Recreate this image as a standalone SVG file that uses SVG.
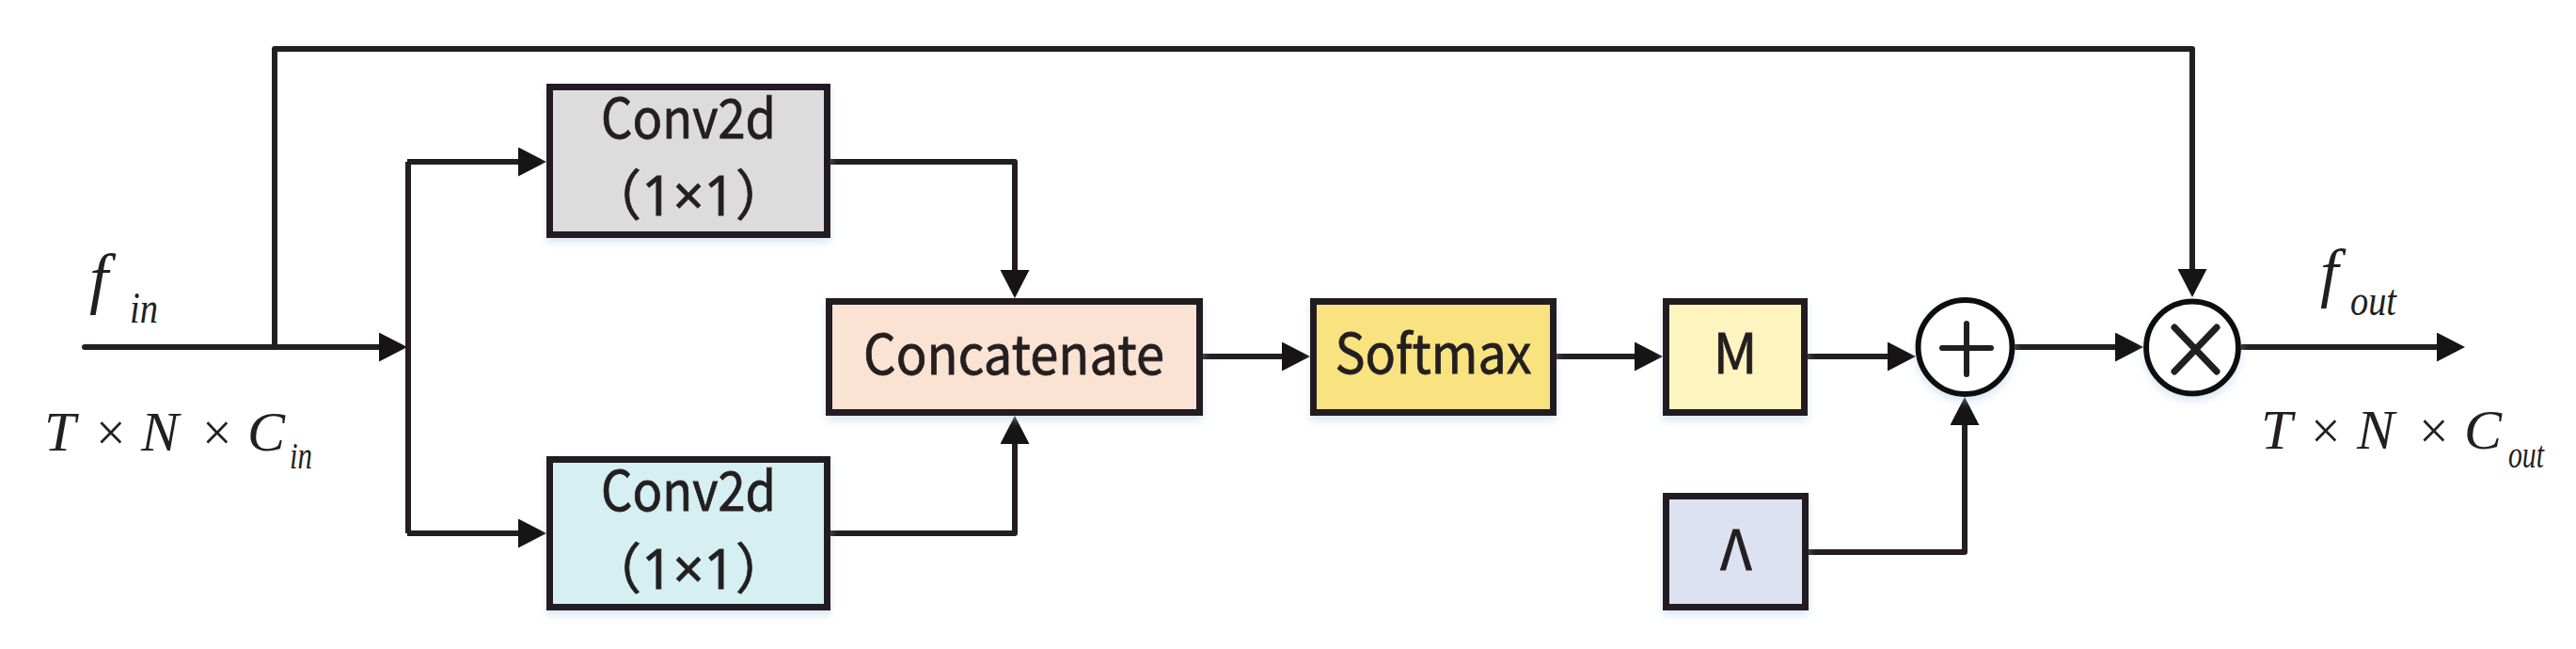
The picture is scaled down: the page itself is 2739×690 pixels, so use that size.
<svg xmlns="http://www.w3.org/2000/svg" width="2739" height="690" viewBox="0 0 2739 690">
  <style>
    .box { stroke: #231f20; stroke-width: 7; }
    .lbl { font-family: "Noto Sans CJK SC", "Noto Sans", sans-serif; font-size: 58px; fill: #231f20; stroke: #231f20; stroke-width: 0.8px; text-anchor: middle; }
    .lat { font-family: "Noto Sans", sans-serif; }
    .conn { fill: none; stroke: #231f20; stroke-width: 6; stroke-linejoin: round; }
    .math { font-family: "Liberation Serif", "Times New Roman", serif; fill: #231f20; }
    .it { font-style: italic; }
    .sym { fill: none; stroke: #231f20; stroke-linecap: round; }
  </style>
  <defs>
    <marker id="arr" markerUnits="userSpaceOnUse" markerWidth="30" markerHeight="31" refX="15" refY="15.5" orient="auto">
      <path d="M0,0 L30,15.5 L0,31 Z" fill="#161414"/>
    </marker>
    <filter id="glow" x="-20%" y="-20%" width="140%" height="150%">
      <feDropShadow dx="0" dy="5" stdDeviation="4" flood-color="#a9cbe9" flood-opacity="0.45"/>
    </filter>
  </defs>
  <rect width="2739" height="690" fill="#ffffff"/>

  <g id="connectors">
    <path class="conn" d="M90,369 H418" marker-end="url(#arr)" stroke-linecap="round"/>
    <path class="conn" d="M434,172 V567"/>
    <path class="conn" d="M433,172 H566" marker-end="url(#arr)"/>
    <path class="conn" d="M433,567 H566" marker-end="url(#arr)"/>
    <path class="conn" d="M883,172 H1079 V302" marker-end="url(#arr)"/>
    <path class="conn" d="M883,567 H1079 V457" marker-end="url(#arr)"/>
    <path class="conn" d="M1279,379 H1378" marker-end="url(#arr)"/>
    <path class="conn" d="M1655,379 H1753" marker-end="url(#arr)"/>
    <path class="conn" d="M1922,379 H2022" marker-end="url(#arr)"/>
    <path class="conn" d="M2142,369 H2264" marker-end="url(#arr)"/>
    <path class="conn" d="M1923,587 H2089 V437" marker-end="url(#arr)"/>
    <path class="conn" d="M292,369 V52 H2331 V301" marker-end="url(#arr)"/>
    <path class="conn" d="M2383,369 H2606" marker-end="url(#arr)"/>
  </g>

  <g id="conv-top">
    <rect class="box" x="584.5" y="92.5" width="295" height="157" fill="#dcdcdc" filter="url(#glow)"/>
    <text class="lbl" x="732" y="147" textLength="186" lengthAdjust="spacingAndGlyphs">Conv2d</text>
    <text class="lbl" x="732" y="229">（<tspan class="lat">1×1</tspan>）</text>
  </g>

  <g id="conv-bottom">
    <rect class="box" x="584.5" y="488.5" width="295" height="157" fill="#d5eff2" filter="url(#glow)"/>
    <text class="lbl" x="732" y="543" textLength="186" lengthAdjust="spacingAndGlyphs">Conv2d</text>
    <text class="lbl" x="732" y="626">（<tspan class="lat">1×1</tspan>）</text>
  </g>

  <g id="concatenate">
    <rect class="box" x="881.5" y="320.5" width="394" height="118" fill="#fbe3d4" filter="url(#glow)"/>
    <text class="lbl" x="1078" y="398" textLength="320" lengthAdjust="spacingAndGlyphs">Concatenate</text>
  </g>

  <g id="softmax">
    <rect class="box" x="1396.5" y="320.5" width="255" height="118" fill="#f9e381" filter="url(#glow)"/>
    <text class="lbl" x="1524" y="397" textLength="209" lengthAdjust="spacingAndGlyphs">Softmax</text>
  </g>

  <g id="m">
    <rect class="box" x="1771.5" y="320.5" width="147" height="118" fill="#fef4c0" filter="url(#glow)"/>
    <text class="lbl" x="1845" y="397">M</text>
  </g>

  <g id="lambda">
    <rect class="box" x="1771.5" y="527.5" width="148" height="118" fill="#dde2f3" filter="url(#glow)"/>
    <text class="lbl" x="1846" y="606">Λ</text>
  </g>

  <g id="plus">
    <circle cx="2089.5" cy="369" r="50" fill="#ffffff" stroke="#111" stroke-width="6" filter="url(#glow)"/>
    <path class="sym" stroke-width="6" d="M2065,370 H2117 M2091,344 V398"/>
  </g>

  <g id="times">
    <circle cx="2331" cy="369.5" r="49" fill="#ffffff" stroke="#111" stroke-width="6" filter="url(#glow)"/>
    <path class="sym" stroke-width="7" d="M2312,348 L2357,395 M2357,348 L2312,395"/>
  </g>

  <g id="input-labels">
    <text class="math it" x="95" y="320" font-size="72">f</text>
    <text class="math it" x="138" y="343" font-size="46" textLength="30" lengthAdjust="spacingAndGlyphs">in</text>
    <text class="math it" x="47" y="479" font-size="60">T</text>
    <text class="math" x="102" y="479" font-size="56">×</text>
    <text class="math it" x="150" y="479" font-size="60">N</text>
    <text class="math" x="215" y="479" font-size="56">×</text>
    <text class="math it" x="263" y="479" font-size="60">C</text>
    <text class="math it" x="308" y="498" font-size="40" textLength="24" lengthAdjust="spacingAndGlyphs">in</text>
  </g>

  <g id="output-labels">
    <text class="math it" x="2467" y="313" font-size="70">f</text>
    <text class="math it" x="2499" y="335" font-size="46" textLength="49" lengthAdjust="spacingAndGlyphs">out</text>
    <text class="math it" x="2404" y="477" font-size="60">T</text>
    <text class="math" x="2457" y="477" font-size="56">×</text>
    <text class="math it" x="2506" y="477" font-size="60">N</text>
    <text class="math" x="2572" y="477" font-size="56">×</text>
    <text class="math it" x="2620" y="477" font-size="60">C</text>
    <text class="math it" x="2667" y="497" font-size="40" textLength="38" lengthAdjust="spacingAndGlyphs">out</text>
  </g>
</svg>
